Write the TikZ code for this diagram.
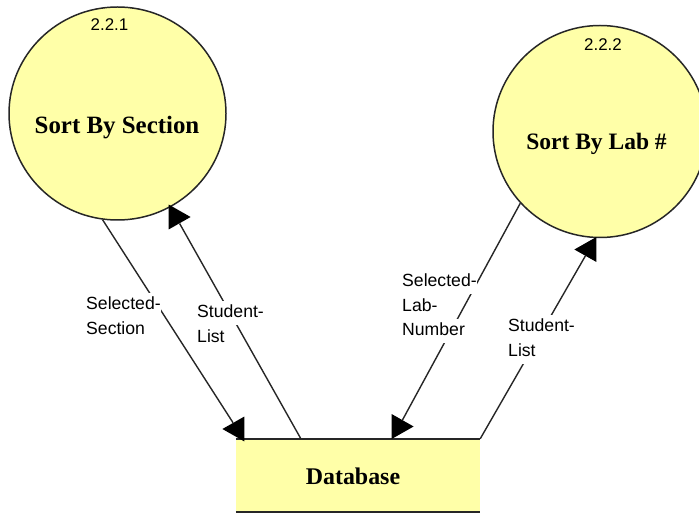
\documentclass[tikz,border=0pt]{standalone}
\usepackage{fontspec}
\setmainfont{Liberation Serif}
\newfontfamily\labelfont{Liberation Sans}
\usetikzlibrary{shapes.geometric}
\definecolor{paleyellow}{RGB}{255,255,168}
\setlength{\fboxsep}{0pt}
\newcommand{\lbox}[1]{\colorbox{white}{\strut #1}}
\tikzset{l/.style={font=\labelfont\fontsize{17.7}{24.5}\selectfont,align=left,inner sep=0pt,anchor=north west}}
\tikzset{n/.style={font=\labelfont\fontsize{17}{18}\selectfont,inner sep=0pt}}
\tikzset{b/.style={font=\bfseries\fontsize{24}{26}\selectfont,inner sep=0pt,anchor=base}}
\tikzset{proc/.style={ellipse,draw=black!85,line width=1.5pt,fill=paleyellow,inner sep=0pt}}
\tikzset{flow/.style={black!85,line width=1.4pt}}
\tikzset{head/.style={isosceles triangle,isosceles triangle apex angle=60,isosceles triangle stretches=true,fill=black,inner sep=0pt,minimum width=25,minimum height=22}}
\begin{document}
\begin{tikzpicture}[x=1bp,y=-1bp,line join=round]
  \clip (0,0) rectangle (699,513);
  \fill[white] (0,0) rectangle (699,513);
  \node (db) [fill=paleyellow,inner sep=0pt,minimum width=244bp,minimum height=73bp] at (358,475.5) {};
  \draw[black!85,line width=1.8pt] (db.north west) -- (db.north east);
  \draw[black!85,line width=1.8pt] (db.south west) -- (db.south east);
  \node (section) [proc,minimum width=217bp,minimum height=213bp] at (117.5,113.5) {};
  \node (lab) [proc,minimum width=214bp,minimum height=212bp] at (600,131.5) {};
  \coordinate (dbtop) at (301,439);
  \node (h1) [head,anchor=apex] at (191,217) {};
  \node (h2) [head,anchor=apex,shape border rotate=180] at (574,249.5) {};
  \node (h3) [head,anchor=apex,shape border rotate=180] at (222,429) {};
  \node (h4) [head,anchor=apex] at (414,426.5) {};
  \draw[flow] (section.262) -- (h3);
  \draw[flow] (dbtop) -- (h1);
  \draw[flow] (lab.222) -- (h4);
  \draw[flow] (db.north east) -- (h2);
  \node (selsec) [l] at (86,292.5) {\lbox{Selected-}\\\lbox{Section}};
  \node (stu1) [l] at (197,300.5) {\lbox{Student-}\\\lbox{List}};
  \node (sellab) [l] at (402,269.5) {\lbox{Selected-}\\\lbox{Lab-}\\\lbox{Number}};
  \node (stu2) [l] at (508,314.5) {\lbox{Student-}\\\lbox{List\kern8bp}};
  \node (num1) [n] at (109.5,25) {2.2.1};
  \node (num2) [n] at (603,45) {2.2.2};
  \node (name1) [b,font=\bfseries\fontsize{25}{26}\selectfont] at (117,134) {Sort By Section};
  \node (name2) [b,font=\bfseries\fontsize{23.6}{26}\selectfont] at (596.5,150) {Sort By Lab \#};
  \node (name3) [b] at (353,484) {Database};
\end{tikzpicture}
\end{document}
